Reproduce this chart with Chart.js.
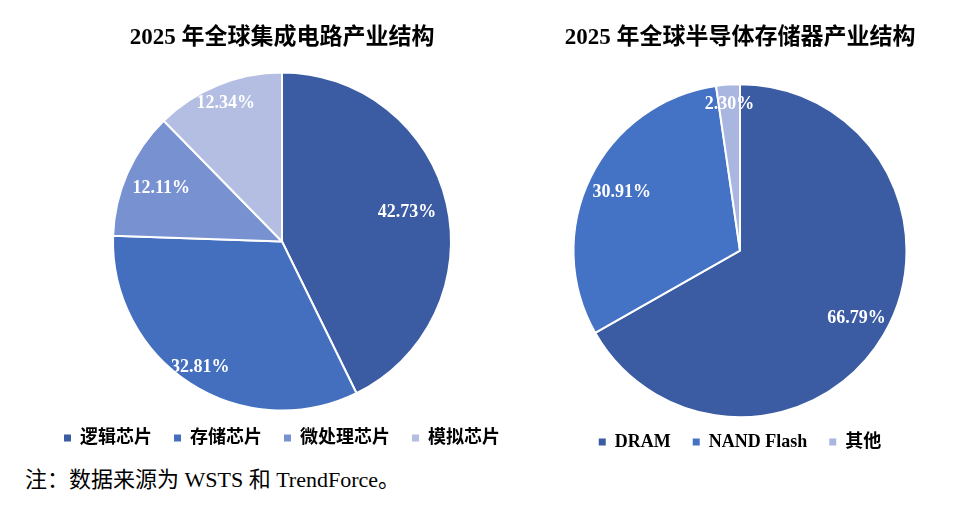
<!DOCTYPE html>
<html>
<head>
<meta charset="utf-8">
<script src="https://cdn.jsdelivr.net/npm/chart.js@4"></script>
<style>
  body { margin: 0; background: #fff; width: 975px; height: 505px; position: relative; overflow: hidden; }
  .box { position: absolute; top: 0; }
  #note {
    position: absolute; left: 25px; top: 461px;
    font-family: "Liberation Serif", "Noto Sans CJK SC", serif;
    font-size: 22px; color: #000; white-space: nowrap;
  }
</style>
</head>
<body>
<div class="box" style="left:0;width:564px;height:457px"><canvas id="pie-ic"></canvas></div>
<div class="box" style="left:505px;width:470px;height:461px"><canvas id="pie-mem"></canvas></div>
<div id="note">注：数据来源为 WSTS 和 TrendForce。</div>
<script>
// data
const icTitle = '2025 年全球集成电路产业结构';
const icLabels = ['逻辑芯片', '存储芯片', '微处理芯片', '模拟芯片'];
const icShares = [42.73, 32.81, 12.11, 12.34];

const memTitle = '2025 年全球半导体存储器产业结构';
const memLabels = ['DRAM', 'NAND Flash', '其他'];
const memShares = [66.79, 30.91, 2.30];

const serif = '"Liberation Serif", "Noto Sans CJK SC", serif';

// white percent text on each slice
const sliceLabels = {
    id: 'sliceLabels',
    afterDatasetsDraw(chart, args, opts) {
        const ctx = chart.ctx;
        const meta = chart.getDatasetMeta(0);
        const data = chart.data.datasets[0].data;
        ctx.save();
        ctx.fillStyle = '#fff';
        ctx.font = 'bold 18px ' + serif;
        ctx.textAlign = 'center';
        ctx.textBaseline = 'middle';
        meta.data.forEach((arc, i) => {
            const p = arc.getProps(['x', 'y', 'startAngle', 'endAngle', 'outerRadius'], true);
            const mid = (p.startAngle + p.endAngle) / 2;
            const r = p.outerRadius * opts.radius[i];
            ctx.fillText(data[i].toFixed(2) + '%', p.x + Math.cos(mid) * r, p.y + Math.sin(mid) * r);
        });
        ctx.restore();
    }
};

function makePie(id, title, labels, values, colors, radius, titleBottom, labelRadius) {
    new Chart(document.getElementById(id), {
        type: 'pie',
        data: {
            labels: labels,
            datasets: [{
                data: values,
                backgroundColor: colors,
                borderColor: '#fff',
                borderWidth: 2,
                radius: radius,
                clip: false
            }]
        },
        options: {
            responsive: true,
            maintainAspectRatio: false,
            animation: false,
            layout: { padding: 0 },
            plugins: {
                title: {
                    display: true,
                    text: title,
                    color: '#000',
                    font: { family: serif, size: 23, weight: 'bold', lineHeight: 1.2 },
                    padding: { top: 24, bottom: titleBottom }
                },
                legend: {
                    position: 'bottom',
                    labels: {
                        boxWidth: 7,
                        boxHeight: 7,
                        padding: 22,
                        color: '#000',
                        font: { family: serif, size: 18, weight: 'bold' },
                        generateLabels(chart) {
                            const items = Chart.overrides.pie.plugins.legend.labels.generateLabels(chart);
                            items.forEach(it => { it.lineWidth = 0; it.strokeStyle = it.fillStyle; });
                            return items;
                        }
                    }
                },
                tooltip: { enabled: false },
                sliceLabels: { radius: labelRadius }
            }
        },
        plugins: [sliceLabels]
    });
}

makePie('pie-ic', icTitle, icLabels, icShares,
    ['#3b5ca2', '#436fbe', '#7891d0', '#b3bee2'], 169, 24.4, [0.76, 0.89, 0.78, 0.88]);
makePie('pie-mem', memTitle, memLabels, memShares,
    ['#3b5ca2', '#4472c4', '#a8b6e0'], 166.5, 38.7, [0.81, 0.79, 0.88]);
</script>
</body>
</html>
